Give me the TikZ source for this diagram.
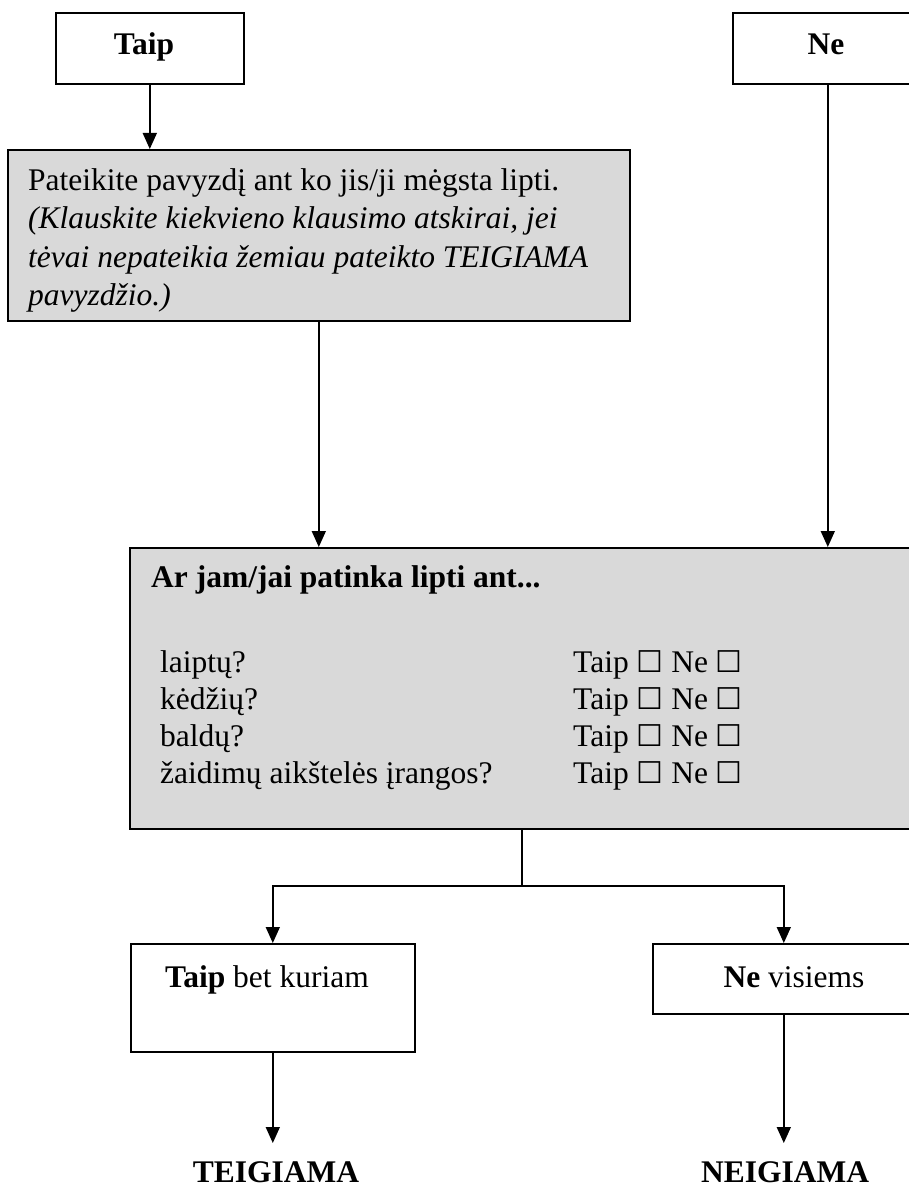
\documentclass[tikz,border=0pt]{standalone}
\usepackage{fontspec}
\setmainfont{Liberation Serif}
\newfontfamily\symfont{DejaVu Sans}
\usetikzlibrary{arrows.meta}
\definecolor{boxgray}{HTML}{D9D9D9}
\newcommand{\cbx}{{\symfont\fontsize{30}{38}\selectfont ☐}}
\newcommand{\mainsize}{\fontsize{31.5}{38.5}\selectfont}
\begin{document}
\begin{tikzpicture}[x=1pt,y=-1pt,
  font=\mainsize,
  box/.style={draw, line width=1.6pt, inner sep=0pt, anchor=north west},
  graybox/.style={box, fill=boxgray},
  lbl/.style={inner sep=0pt, anchor=base},
  conn/.style={line width=1.6pt},
  arr/.style={line width=1.6pt, -{Triangle[length=16pt,width=14pt]}}]
\useasboundingbox (0,0) rectangle (909,1188);

% top boxes
\node[box, minimum width=188pt, minimum height=71pt] (taip) at (55,12) {};
\node[lbl, font=\mainsize\bfseries] (taiptxt) at (144,55) {Taip};
\node[box, minimum width=190pt, minimum height=71pt] (ne) at (732,12) {};
\node[lbl, font=\mainsize\bfseries] (netxt) at (826,55) {Ne};

% first gray box
\node[graybox, minimum width=622pt, minimum height=171pt] (box1) at (7,149) {};
\node[inner sep=0pt, anchor=north west, align=left] (box1txt) at (28,168)
  {Pateikite pavyzdį ant ko jis/ji mėgsta lipti.\\
   \itshape (Klauskite kiekvieno klausimo atskirai, jei\\
   \itshape tėvai nepateikia žemiau pateikto TEIGIAMA\\
   \itshape pavyzdžio.)};

% second gray box
\node[graybox, minimum width=790pt, minimum height=281pt] (box2) at (129,547) {};
\node[inner sep=0pt, anchor=base west, font=\mainsize\bfseries] (q) at (151,587) {Ar jam/jai patinka lipti ant...};
\node[inner sep=0pt, anchor=base west] (r1) at (160,672) {laiptų?};
\node[inner sep=0pt, anchor=base west] (r2) at (160,709) {kėdžių?};
\node[inner sep=0pt, anchor=base west] (r3) at (160,746) {baldų?};
\node[inner sep=0pt, anchor=base west] (r4) at (160,783) {žaidimų aikštelės įrangos?};
\node[inner sep=0pt, anchor=base west] (c1) at (573,672) {Taip \cbx{} Ne \cbx};
\node[inner sep=0pt, anchor=base west] (c2) at (573,709) {Taip \cbx{} Ne \cbx};
\node[inner sep=0pt, anchor=base west] (c3) at (573,746) {Taip \cbx{} Ne \cbx};
\node[inner sep=0pt, anchor=base west] (c4) at (573,783) {Taip \cbx{} Ne \cbx};

% result boxes
\node[box, minimum width=284pt, minimum height=108pt] (yes) at (130,943) {};
\node[lbl] (yestxt) at (267,987) {\textbf{Taip} bet kuriam};
\node[box, minimum width=262pt, minimum height=70pt] (no) at (652,943) {};
\node[lbl] (notxt) at (794,987) {\textbf{Ne} visiems};

\node[inner sep=0pt, anchor=north, text height=39pt, font=\mainsize\bfseries] (teig) at (276,1143) {TEIGIAMA};
\node[inner sep=0pt, anchor=north, text height=39pt, font=\mainsize\bfseries] (neig) at (785,1143) {NEIGIAMA};

\coordinate (split) at (522,886);

% connectors
\draw[arr] (taip.south) -- (taip.south |- box1.north);
\draw[arr] (box1.south) -- (box1.south |- box2.north);
\draw[arr] (ne.south) -- (ne.south |- box2.north);
\draw[conn] (split |- box2.south) -- (split);
\draw[arr] (split) -| (yes.north);
\draw[arr] (split) -| (no.north);
\draw[arr] (yes.south) -- (yes.south |- teig.north);
\draw[arr] (no.south) -- (no.south |- neig.north);
\end{tikzpicture}
\end{document}
